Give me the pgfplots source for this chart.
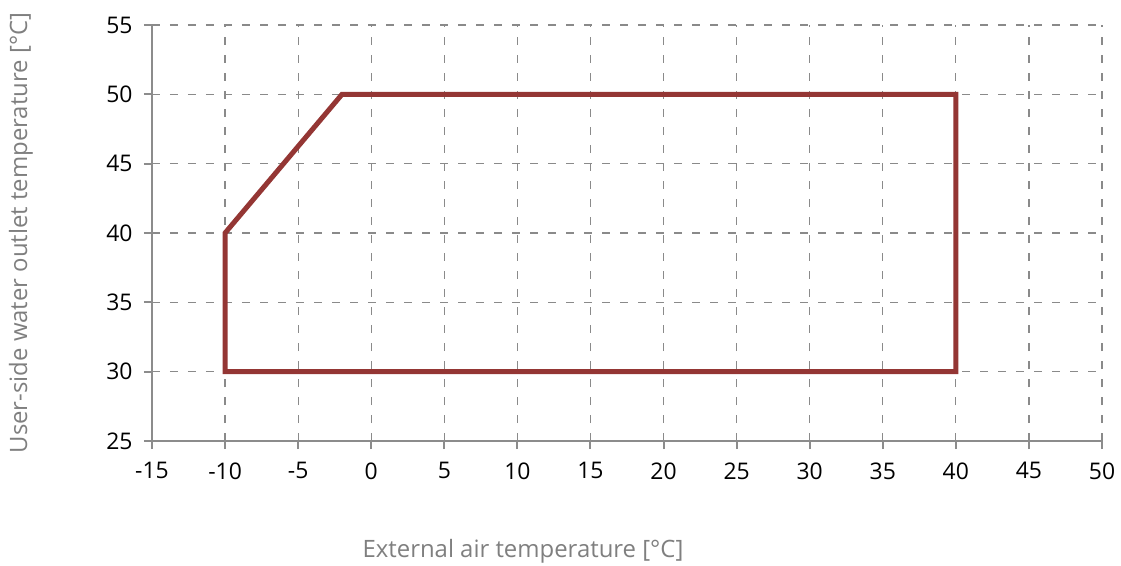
\documentclass[border=0pt]{standalone}
\usepackage{pgfplots}
\pgfplotsset{compat=1.18}
\usepackage{fontspec}
\setmainfont{Open Sans}
\definecolor{envelope}{HTML}{943634}
\definecolor{axisgray}{HTML}{8C8C8C}
\definecolor{gridgray}{HTML}{8A8A8A}
\definecolor{labelgray}{HTML}{7F7F7F}
\begin{document}
\begin{tikzpicture}
\begin{axis}[
  at={(0,0)}, anchor=south west,
  scale only axis,
  width=950bp, height=416bp,
  xmin=-15, xmax=50, ymin=25, ymax=55,
  xtick={-15,-10,...,50}, ytick={25,30,...,55},
  axis x line*=bottom, axis y line*=left,
  axis line style={axisgray, line width=2bp, -},
  tick style={axisgray, line width=2bp},
  tick align=outside,
  major tick length=8bp,
  grid=major,
  major grid style={gridgray, line width=1.2bp, dash pattern=on 8bp off 10bp},
  ticklabel style={font=\fontsize{23}{27}\selectfont, text=black},
  /pgf/number format/assume math mode=true,
  xticklabel style={yshift=-10bp},
  yticklabel style={xshift=-8bp},
  clip=false,
]
% operating envelope of the unit
\addplot[envelope, line width=5bp, line join=miter] coordinates {
  (-10,30) (-10,40) (-2,50) (40,50) (40,30) (-10,30)
} -- cycle;
\end{axis}
\node[rotate=90, text=labelgray, font=\fontsize{24}{28}\selectfont] at (-131bp,208bp) {User-side water outlet temperature [°C]};
\node[text=labelgray, font=\fontsize{24}{28}\selectfont] at (371bp,-110bp) {External air temperature [°C]};
\pgfresetboundingbox
\path[use as bounding box] (-152bp,-125bp) rectangle (969bp,441bp);
\end{tikzpicture}
\end{document}
